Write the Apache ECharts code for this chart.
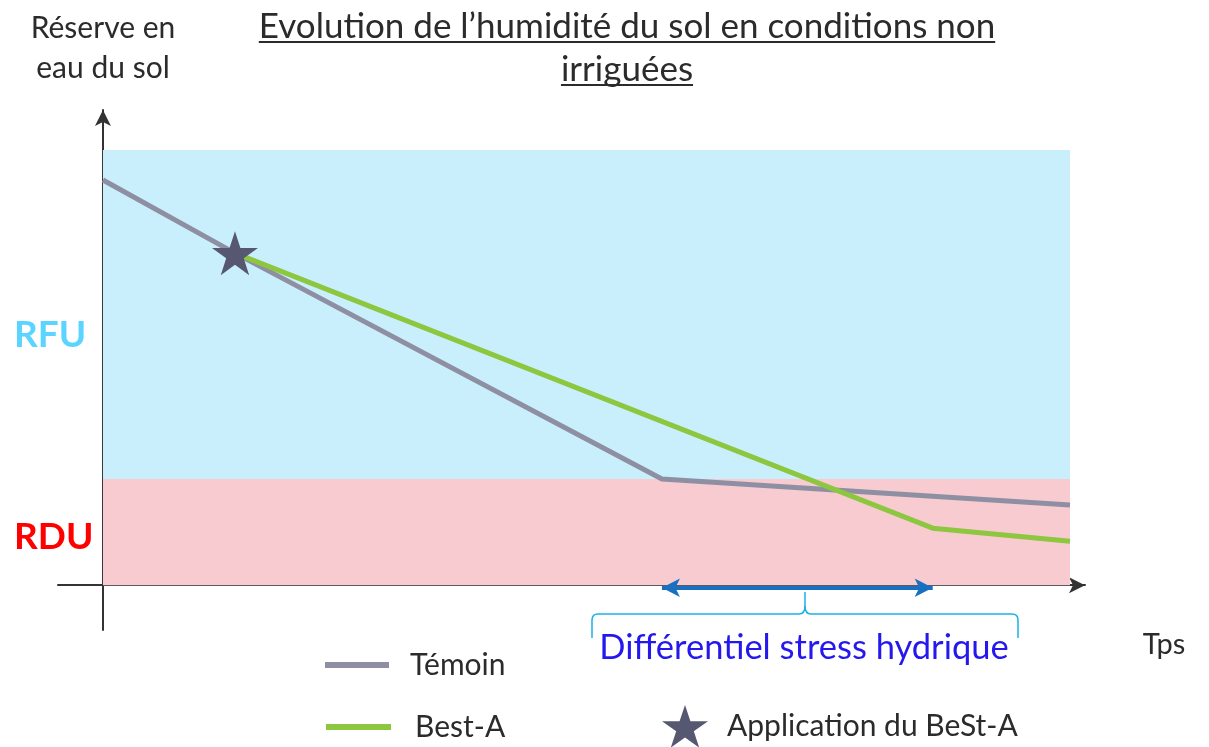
<!DOCTYPE html>
<html><head><meta charset="utf-8">
<script src="https://cdn.jsdelivr.net/npm/echarts@6/dist/echarts.min.js"></script>
<style>html,body{margin:0;padding:0;background:#fff}#c{width:1209px;height:747px}</style>
</head><body><div id="c"></div>
<script>
// ---- data ----
const temoinX = [0, 13.65, 57.8, 100];
const temoinY = [93.1, 76.3, 24.4, 18.4];
const bestX = [13.65, 85.8, 100];
const bestY = [76.3, 13.1, 10.1];
const applicationPoint = [13.65, 76.3];
const rfuRange = [24.4, 100];
const rduRange = [0, 24.4];
const timeRange = [0, 100];
const stressRange = [57.8, 85.8];
const seriesNames = ['Témoin', 'Best-A', 'Application du BeSt-A'];
const titleLines = ['Evolution de l’humidité du sol en conditions non', 'irriguées'];

const FONT = 'Lato, "Open Sans", sans-serif';
const STAR = 'path://M50,0 L61.8,35.4 L100,35.4 L69.1,57.3 L80.9,92.7 L50,70.8 L19.1,92.7 L30.9,57.3 L0,35.4 L38.2,35.4 Z';
const TEXT = '#2b2b2b';

const chart = echarts.init(document.getElementById('c'), null, {renderer: 'canvas'});

function zip(xs, ys) { return xs.map((x, i) => [x, ys[i]]); }

function measure(text, size) {
  const c = document.createElement('canvas').getContext('2d');
  c.font = size + 'px ' + FONT;
  return c.measureText(text).width;
}

const titleSize = 35;
const graphics = [];
titleLines.forEach((t, i) => {
  const y = 27 + i * 43;
  const w = measure(t, titleSize);
  graphics.push({type: 'text', x: 627, y: y, style: {text: t, font: titleSize + 'px ' + FONT, fill: TEXT, align: 'center', verticalAlign: 'middle'}});
  graphics.push({type: 'line', shape: {x1: 627 - w / 2, y1: y + 15, x2: 627 + w / 2, y2: y + 15}, style: {stroke: TEXT, lineWidth: 2}});
});
graphics.push({type: 'text', x: 103, y: 28, style: {text: 'Réserve en', font: '30px ' + FONT, fill: TEXT, align: 'center', verticalAlign: 'middle'}});
graphics.push({type: 'text', x: 103, y: 68, style: {text: 'eau du sol', font: '30px ' + FONT, fill: TEXT, align: 'center', verticalAlign: 'middle'}});
graphics.push({type: 'text', x: 14, y: 335, style: {text: 'RFU', font: 'bold 37px ' + FONT, fill: '#5bd4ff', align: 'left', verticalAlign: 'middle'}});
graphics.push({type: 'text', x: 14, y: 537, style: {text: 'RDU', font: 'bold 37px ' + FONT, fill: '#ff0000', align: 'left', verticalAlign: 'middle'}});
graphics.push({type: 'text', x: 1164, y: 645, style: {text: 'Tps', font: '29px ' + FONT, fill: TEXT, align: 'center', verticalAlign: 'middle'}});
// brace
const braceStyle = {stroke: '#1ab0e8', lineWidth: 1.5, fill: null};
[
  {type: 'line', shape: {x1: 592, y1: 638, x2: 592, y2: 620}},
  {type: 'bezierCurve', shape: {x1: 592, y1: 620, cpx1: 592, cpy1: 614, x2: 598, y2: 614}},
  {type: 'line', shape: {x1: 598, y1: 614, x2: 799, y2: 614}},
  {type: 'bezierCurve', shape: {x1: 799, y1: 614, cpx1: 805, cpy1: 614, x2: 805, y2: 606}},
  {type: 'line', shape: {x1: 805, y1: 606, x2: 805, y2: 592}},
  {type: 'bezierCurve', shape: {x1: 805, y1: 606, cpx1: 805, cpy1: 614, x2: 811, y2: 614}},
  {type: 'line', shape: {x1: 811, y1: 614, x2: 1012, y2: 614}},
  {type: 'bezierCurve', shape: {x1: 1012, y1: 614, cpx1: 1018, cpy1: 614, x2: 1018, y2: 620}},
  {type: 'line', shape: {x1: 1018, y1: 620, x2: 1018, y2: 638}}
].forEach(g => { g.style = braceStyle; graphics.push(g); });
graphics.push({type: 'text', x: 804, y: 648, style: {text: 'Différentiel stress hydrique', font: '34.5px ' + FONT, fill: '#2418ee', align: 'center', verticalAlign: 'middle'}});

const legendText = {fontFamily: FONT, fontSize: 30, color: TEXT, lineHeight: 34};

chart.setOption({
  animation: false,
  backgroundColor: '#fff',
  grid: {left: 58, right: 124, top: 110, bottom: 117, containLabel: false},
  xAxis: {type: 'value', min: -4.65, max: 101.55,
    axisLine: {show: true, onZero: true, symbol: ['none', 'arrow'], symbolSize: [12, 16], lineStyle: {color: '#333', width: 2}},
    axisTick: {show: false}, axisLabel: {show: false}, splitLine: {show: false}},
  yAxis: {type: 'value', min: -10.3, max: 109.2,
    axisLine: {show: true, onZero: true, symbol: ['none', 'arrow'], symbolSize: [12, 16], lineStyle: {color: '#333', width: 2}},
    axisTick: {show: false}, axisLabel: {show: false}, splitLine: {show: false}},
  legend: [
    {data: [seriesNames[0]], left: 325, top: 648, padding: 0, icon: 'rect', itemWidth: 64, itemHeight: 6,
     textStyle: Object.assign({padding: [0, 0, 0, 16]}, legendText)},
    {data: [seriesNames[1]], left: 326, top: 710, padding: 0, icon: 'rect', itemWidth: 65, itemHeight: 6,
     textStyle: Object.assign({padding: [0, 0, 0, 19]}, legendText)},
    {data: [seriesNames[2]], left: 662, top: 705, padding: 0, icon: STAR, itemWidth: 46, itemHeight: 44,
     textStyle: Object.assign({padding: [0, 0, 0, 14]}, legendText)}
  ],
  series: [
    {type: 'line', name: 'bands', data: [], silent: true, z: 1,
     markArea: {silent: true, data: [
       [{xAxis: timeRange[0], yAxis: rfuRange[0], itemStyle: {color: '#c9effd'}}, {xAxis: timeRange[1], yAxis: rfuRange[1]}],
       [{xAxis: timeRange[0], yAxis: rduRange[0], itemStyle: {color: '#f7cbd0'}}, {xAxis: timeRange[1], yAxis: rduRange[1]}]
     ]}},
    {type: 'line', name: seriesNames[0], data: zip(temoinX, temoinY), showSymbol: false, symbol: 'none', z: 3,
     itemStyle: {color: '#8e8fa3'}, lineStyle: {color: '#8e8fa3', width: 5}},
    {type: 'line', name: seriesNames[1], data: zip(bestX, bestY), showSymbol: false, symbol: 'none', z: 4,
     itemStyle: {color: '#8dc63f'}, lineStyle: {color: '#8dc63f', width: 5}},
    {type: 'scatter', name: seriesNames[2], data: [applicationPoint], symbol: STAR, symbolSize: [46, 44], z: 6,
     itemStyle: {color: '#555870', opacity: 1}},
    {type: 'line', name: 'stress', data: [], z: 5,
     markLine: {silent: true, symbol: ['arrow', 'arrow'], symbolSize: [14, 18], label: {show: false},
       lineStyle: {color: '#1a70c0', width: 4, type: 'solid'},
       data: [[{coord: [stressRange[0], -0.6]}, {coord: [stressRange[1], -0.6]}]]}}
  ],
  graphic: graphics
});
</script>
</body></html>
